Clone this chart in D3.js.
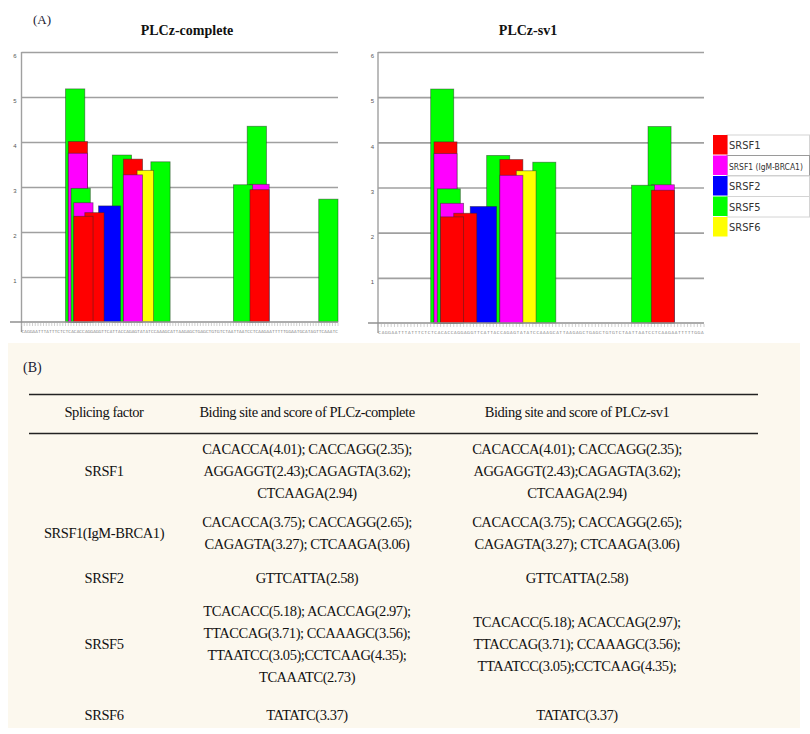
<!DOCTYPE html>
<html><head><meta charset="utf-8">
<script src="https://cdn.jsdelivr.net/npm/d3@7"></script>
<style>body{margin:0;background:#fff}svg{display:block}</style>
</head><body><svg id="c" width="810" height="734"></svg>
<script>
// ---------- DATA ----------
const factors = ["SRSF1", "SRSF1 (IgM-BRCA1)", "SRSF2", "SRSF5", "SRSF6"];
const factorColors = ["#ff0000", "#ff00ff", "#0000ff", "#00ff00", "#ffff00"];

// sequence shown along the x axis (one band per nucleotide)
const seqComplete = "CAGGAATTTATTTCTC" + "TCACACCAGGAGGTTCATTACCAGAGTATATCCAAAGC" +
  "ATTAAGAGCTGAGCTGTGTCTAA" + "TTAATCCTCAAGA" + "ATTTTTGGAATGCATAGT" + "TCAAATC";
const seqSv1 = seqComplete.slice(0, 99);

// binding sites: motif, factor index, score
const siteMotifs  = ["CACACCA","CACCAGG","AGGAGGT","CAGAGTA","CTCAAGA",
                     "CACACCA","CACCAGG","CAGAGTA","CTCAAGA",
                     "GTTCATTA",
                     "TCACACC","ACACCAG","TTACCAG","CCAAAGC","TTAATCC","CCTCAAG","TCAAATC",
                     "TATATC"];
const siteFactor  = [0,0,0,0,0, 1,1,1,1, 2, 3,3,3,3,3,3,3, 4];
const siteScore   = [4.01,2.35,2.43,3.62,2.94, 3.75,2.65,3.27,3.06, 2.58,
                     5.18,2.97,3.71,3.56,3.05,4.35,2.73, 3.37];
const yTicks = [1, 2, 3, 4, 5, 6];

// table
const tableHeader = ["Splicing factor", "Biding site and score of PLCz-complete", "Biding site and score of PLCz-sv1"];
const tableFactors = ["SRSF1", "SRSF1(IgM-BRCA1)", "SRSF2", "SRSF5", "SRSF6"];
const tableComplete = [
  ["CACACCA(4.01); CACCAGG(2.35);", "AGGAGGT(2.43);CAGAGTA(3.62);", "CTCAAGA(2.94)"],
  ["CACACCA(3.75); CACCAGG(2.65);", "CAGAGTA(3.27); CTCAAGA(3.06)"],
  ["GTTCATTA(2.58)"],
  ["TCACACC(5.18); ACACCAG(2.97);", "TTACCAG(3.71); CCAAAGC(3.56);", "TTAATCC(3.05);CCTCAAG(4.35);", "TCAAATC(2.73)"],
  ["TATATC(3.37)"]
];
const tableSv1 = [
  ["CACACCA(4.01); CACCAGG(2.35);", "AGGAGGT(2.43);CAGAGTA(3.62);", "CTCAAGA(2.94)"],
  ["CACACCA(3.75); CACCAGG(2.65);", "CAGAGTA(3.27); CTCAAGA(3.06)"],
  ["GTTCATTA(2.58)"],
  ["TCACACC(5.18); ACACCAG(2.97);", "TTACCAG(3.71); CCAAAGC(3.56);", "TTAATCC(3.05);CCTCAAG(4.35);"],
  ["TATATC(3.37)"]
];

// ---------- DRAW ----------
const svg = d3.select("#c");
svg.append("rect").attr("width", 810).attr("height", 734).attr("fill", "#fff");

svg.append("text").attr("x", 33).attr("y", 24).text("(A)")
  .attr("font-family", "Liberation Serif, serif").attr("font-size", 13).attr("fill", "#1b1b33");

function drawPanel(cfg) {
  const g = svg.append("g");
  const seq = cfg.seq;
  const x = d3.scaleBand().domain(d3.range(seq.length)).range([cfg.x0, cfg.x1]).padding(0);
  const y = d3.scaleLinear().domain([0, 6]).range([cfg.yBase, cfg.yTop]);
  const bw = x.bandwidth();

  g.append("text").attr("x", cfg.titleX).attr("y", 35).attr("text-anchor", "middle")
    .attr("font-family", "Liberation Serif, serif").attr("font-weight", "bold")
    .attr("font-size", 14).attr("fill", "#111").text(cfg.title);

  const ax = d3.axisLeft(y).tickValues(yTicks).tickSize(-(cfg.x1 - cfg.x0)).tickPadding(cfg.labelPad)
    .tickFormat(d3.format("d"));
  const ag = g.append("g").attr("transform", `translate(${cfg.x0},0)`).call(ax);
  ag.select(".domain").remove();
  ag.selectAll(".tick line").attr("stroke", "#a0a0a0").attr("stroke-width", 1.6);
  ag.selectAll(".tick text").attr("font-family", "Liberation Sans, Arial, sans-serif")
    .attr("font-size", 6).attr("fill", "#555").attr("dy", "0.95em");

  g.append("line").attr("x1", cfg.x0).attr("x2", cfg.x0).attr("y1", cfg.yTop).attr("y2", cfg.yBase + 10)
    .attr("stroke", "#a0a0a0").attr("stroke-width", 1.4);

  const sites = siteMotifs.map((m, i) => ({ motif: m, f: siteFactor[i], s: siteScore[i], start: seq.indexOf(m) }))
    .filter(d => d.start >= 0)
    .sort((a, b) => b.s - a.s);
  g.selectAll("rect.bar").data(sites).join("rect").attr("class", "bar")
    .attr("x", d => x(d.start)).attr("width", d => d.motif.length * bw)
    .attr("y", d => y(d.s)).attr("height", d => y(0) - y(d.s))
    .attr("fill", d => factorColors[d.f])
    .attr("stroke", "rgba(40,40,40,0.55)").attr("stroke-width", 0.8);

  g.append("line").attr("x1", cfg.baseLeft).attr("x2", cfg.x1).attr("y1", cfg.yBase).attr("y2", cfg.yBase)
    .attr("stroke", "#909090").attr("stroke-width", 1.6);

  g.selectAll("line.tk").data(d3.range(seq.length + 1)).join("line").attr("class", "tk")
    .attr("x1", i => cfg.x0 + i * bw).attr("x2", i => cfg.x0 + i * bw)
    .attr("y1", cfg.yBase + 1).attr("y2", cfg.yBase + 4)
    .attr("stroke", "#b0b0b0").attr("stroke-width", 0.6);
  g.selectAll("text.nt").data(seq.split("")).join("text").attr("class", "nt")
    .attr("x", (c, i) => x(i) + bw / 2).attr("y", cfg.yBase + 11)
    .attr("text-anchor", "middle").attr("font-family", "Liberation Sans Narrow, DejaVu Sans Condensed, sans-serif")
    .attr("font-size", 4.2).attr("fill", "#777").text(c => c);
}

drawPanel({ seq: seqComplete, x0: 21.5, x1: 338, yTop: 52, yBase: 322, baseLeft: 10, titleX: 187, title: "PLCz-complete", labelPad: 5 });
drawPanel({ seq: seqSv1, x0: 378, x1: 704, yTop: 52, yBase: 323, baseLeft: 368, titleX: 528, title: "PLCz-sv1", labelPad: 4 });

// legend
const lg = svg.append("g");
const rowH = 20.5, lgTop = 135;
factors.forEach((f, i) => {
  const yy = lgTop + i * rowH;
  if (i < 4) {
    lg.append("rect").attr("x", 727).attr("y", yy).attr("width", 82.5).attr("height", rowH)
      .attr("fill", "#fff").attr("stroke", i === 1 ? "#9a9a9a" : "#d4d4d4").attr("stroke-width", 1);
  }
  lg.append("rect").attr("x", 713).attr("y", yy).attr("width", 14.5).attr("height", rowH - 1)
    .attr("fill", factorColors[i]);
  const t = lg.append("text").attr("x", 729).attr("y", yy + rowH / 2 + 4).text(f)
    .attr("font-family", "Liberation Sans Narrow, DejaVu Sans Condensed, sans-serif")
    .attr("font-size", 11).attr("fill", "#333");
  const w = t.node().getComputedTextLength();
  if (729 + w > 803) t.attr("font-size", (11 * (803 - 729) / w).toFixed(2));
});

// ---------- TABLE ----------
const tb = svg.append("g");
tb.append("rect").attr("x", 8).attr("y", 343).attr("width", 792).attr("height", 385).attr("fill", "#fcf8ee");
tb.append("text").attr("x", 23).attr("y", 372).text("(B)")
  .attr("font-family", "Liberation Serif, serif").attr("font-size", 14).attr("fill", "#1b1b33");
[394.5, 433.5].forEach(yy => tb.append("line").attr("x1", 29).attr("x2", 758).attr("y1", yy).attr("y2", yy)
  .attr("stroke", "#222").attr("stroke-width", 1.4));

const colX = [104, 307, 577];
const tfont = t => t.attr("font-family", "Liberation Serif, Times New Roman, serif").attr("font-size", 14.5)
  .attr("letter-spacing", -0.45).attr("fill", "#111").attr("text-anchor", "middle");
tableHeader.forEach((h, i) => tfont(tb.append("text").attr("x", colX[i]).attr("y", 417).text(h)));

const rowCenters = [471, 533, 578, 644, 715];
const lineH = 22;
tableFactors.forEach((f, r) => {
  const cy = rowCenters[r];
  tfont(tb.append("text").attr("x", colX[0]).attr("y", cy + 5).text(f));
  [tableComplete[r], tableSv1[r]].forEach((lines, c) => {
    const n = lines.length;
    lines.forEach((ln, k) => {
      const yy = cy + (k - (n - 1) / 2) * lineH;
      tfont(tb.append("text").attr("x", colX[c + 1]).attr("y", yy + 5).text(ln));
    });
  });
});
</script>
</body></html>
